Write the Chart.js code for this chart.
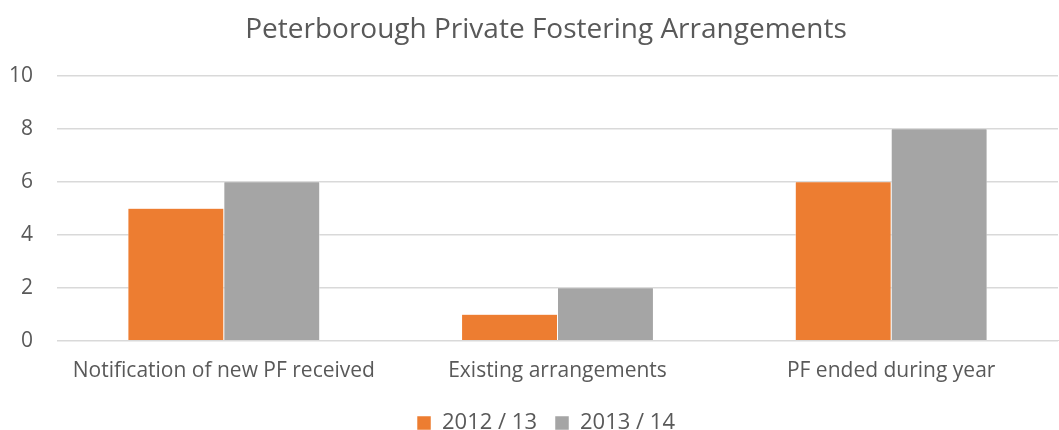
<!DOCTYPE html>
<html lang="en">
<head>
  <meta charset="UTF-8">
  <title>Peterborough Private Fostering Arrangements</title>
  <script src="https://cdn.jsdelivr.net/npm/chart.js"></script>
  <style>
    html, body {
      margin: 0;
      padding: 0;
      background: #fff;
    }
    #wrap {
      width: 1059px;
      height: 430px;
    }
  </style>
</head>
<body>
  <div id="wrap"><canvas id="pfChart" width="1059" height="430"></canvas></div>

  <script>
    const categories = ['Notification of new PF received', 'Existing arrangements', 'PF ended during year'];
    const year1213 = [5, 1, 6];
    const year1314 = [6, 2, 8];
    const seriesNames = ['2012 / 13', '2013 / 14'];

    const textColor = '#595959';
    const fontFamily = '"Open Sans", sans-serif';

    // centre title and legend a bit further right, closer to the plot area
    const nudgeBlocks = {
      id: 'nudgeBlocks',
      afterLayout(chart) {
        const shift = 15;
        [chart.titleBlock, chart.legend].forEach(b => {
          if (b) { b.left += shift; b.right += shift; }
        });
      }
    };

    const ctx = document.getElementById('pfChart').getContext('2d');
    new Chart(ctx, {
      type: 'bar',
      data: {
        labels: categories,
        datasets: [
          {
            label: seriesNames[0],
            data: year1213,
            backgroundColor: '#ED7D31',
            borderColor: '#ffffff',
            borderWidth: 0.5,
            barPercentage: 1,
            categoryPercentage: 0.575
          },
          {
            label: seriesNames[1],
            data: year1314,
            backgroundColor: '#A5A5A5',
            borderColor: '#ffffff',
            borderWidth: 0.5,
            barPercentage: 1,
            categoryPercentage: 0.575
          }
        ]
      },
      plugins: [nudgeBlocks],
      options: {
        responsive: false,
        animation: false,
        layout: { padding: { left: 4, right: 1, top: 11, bottom: -14 } },
        plugins: {
          title: {
            display: true,
            text: 'Peterborough Private Fostering Arrangements',
            color: textColor,
            font: { family: fontFamily, size: 28, weight: 'normal' },
            padding: { top: 2, bottom: 29 }
          },
          legend: {
            position: 'bottom',
            labels: {
              color: textColor,
              font: { family: fontFamily, size: 22 },
              boxWidth: 14,
              boxHeight: 14,
              padding: 18
            }
          },
          tooltip: { enabled: false }
        },
        scales: {
          x: {
            grid: { display: false },
            border: { color: '#D9D9D9', width: 1 },
            ticks: {
              color: textColor,
              font: { family: fontFamily, size: 21 },
              padding: 10,
              maxRotation: 0
            }
          },
          y: {
            min: 0,
            max: 10,
            afterFit: (axis) => { axis.width = 53; },
            ticks: {
              stepSize: 2,
              color: textColor,
              font: { family: fontFamily, size: 21 },
              padding: 24
            },
            grid: { color: '#D9D9D9', lineWidth: 1.5, drawTicks: false },
            border: { display: false }
          }
        }
      }
    });
  </script>
</body>
</html>
